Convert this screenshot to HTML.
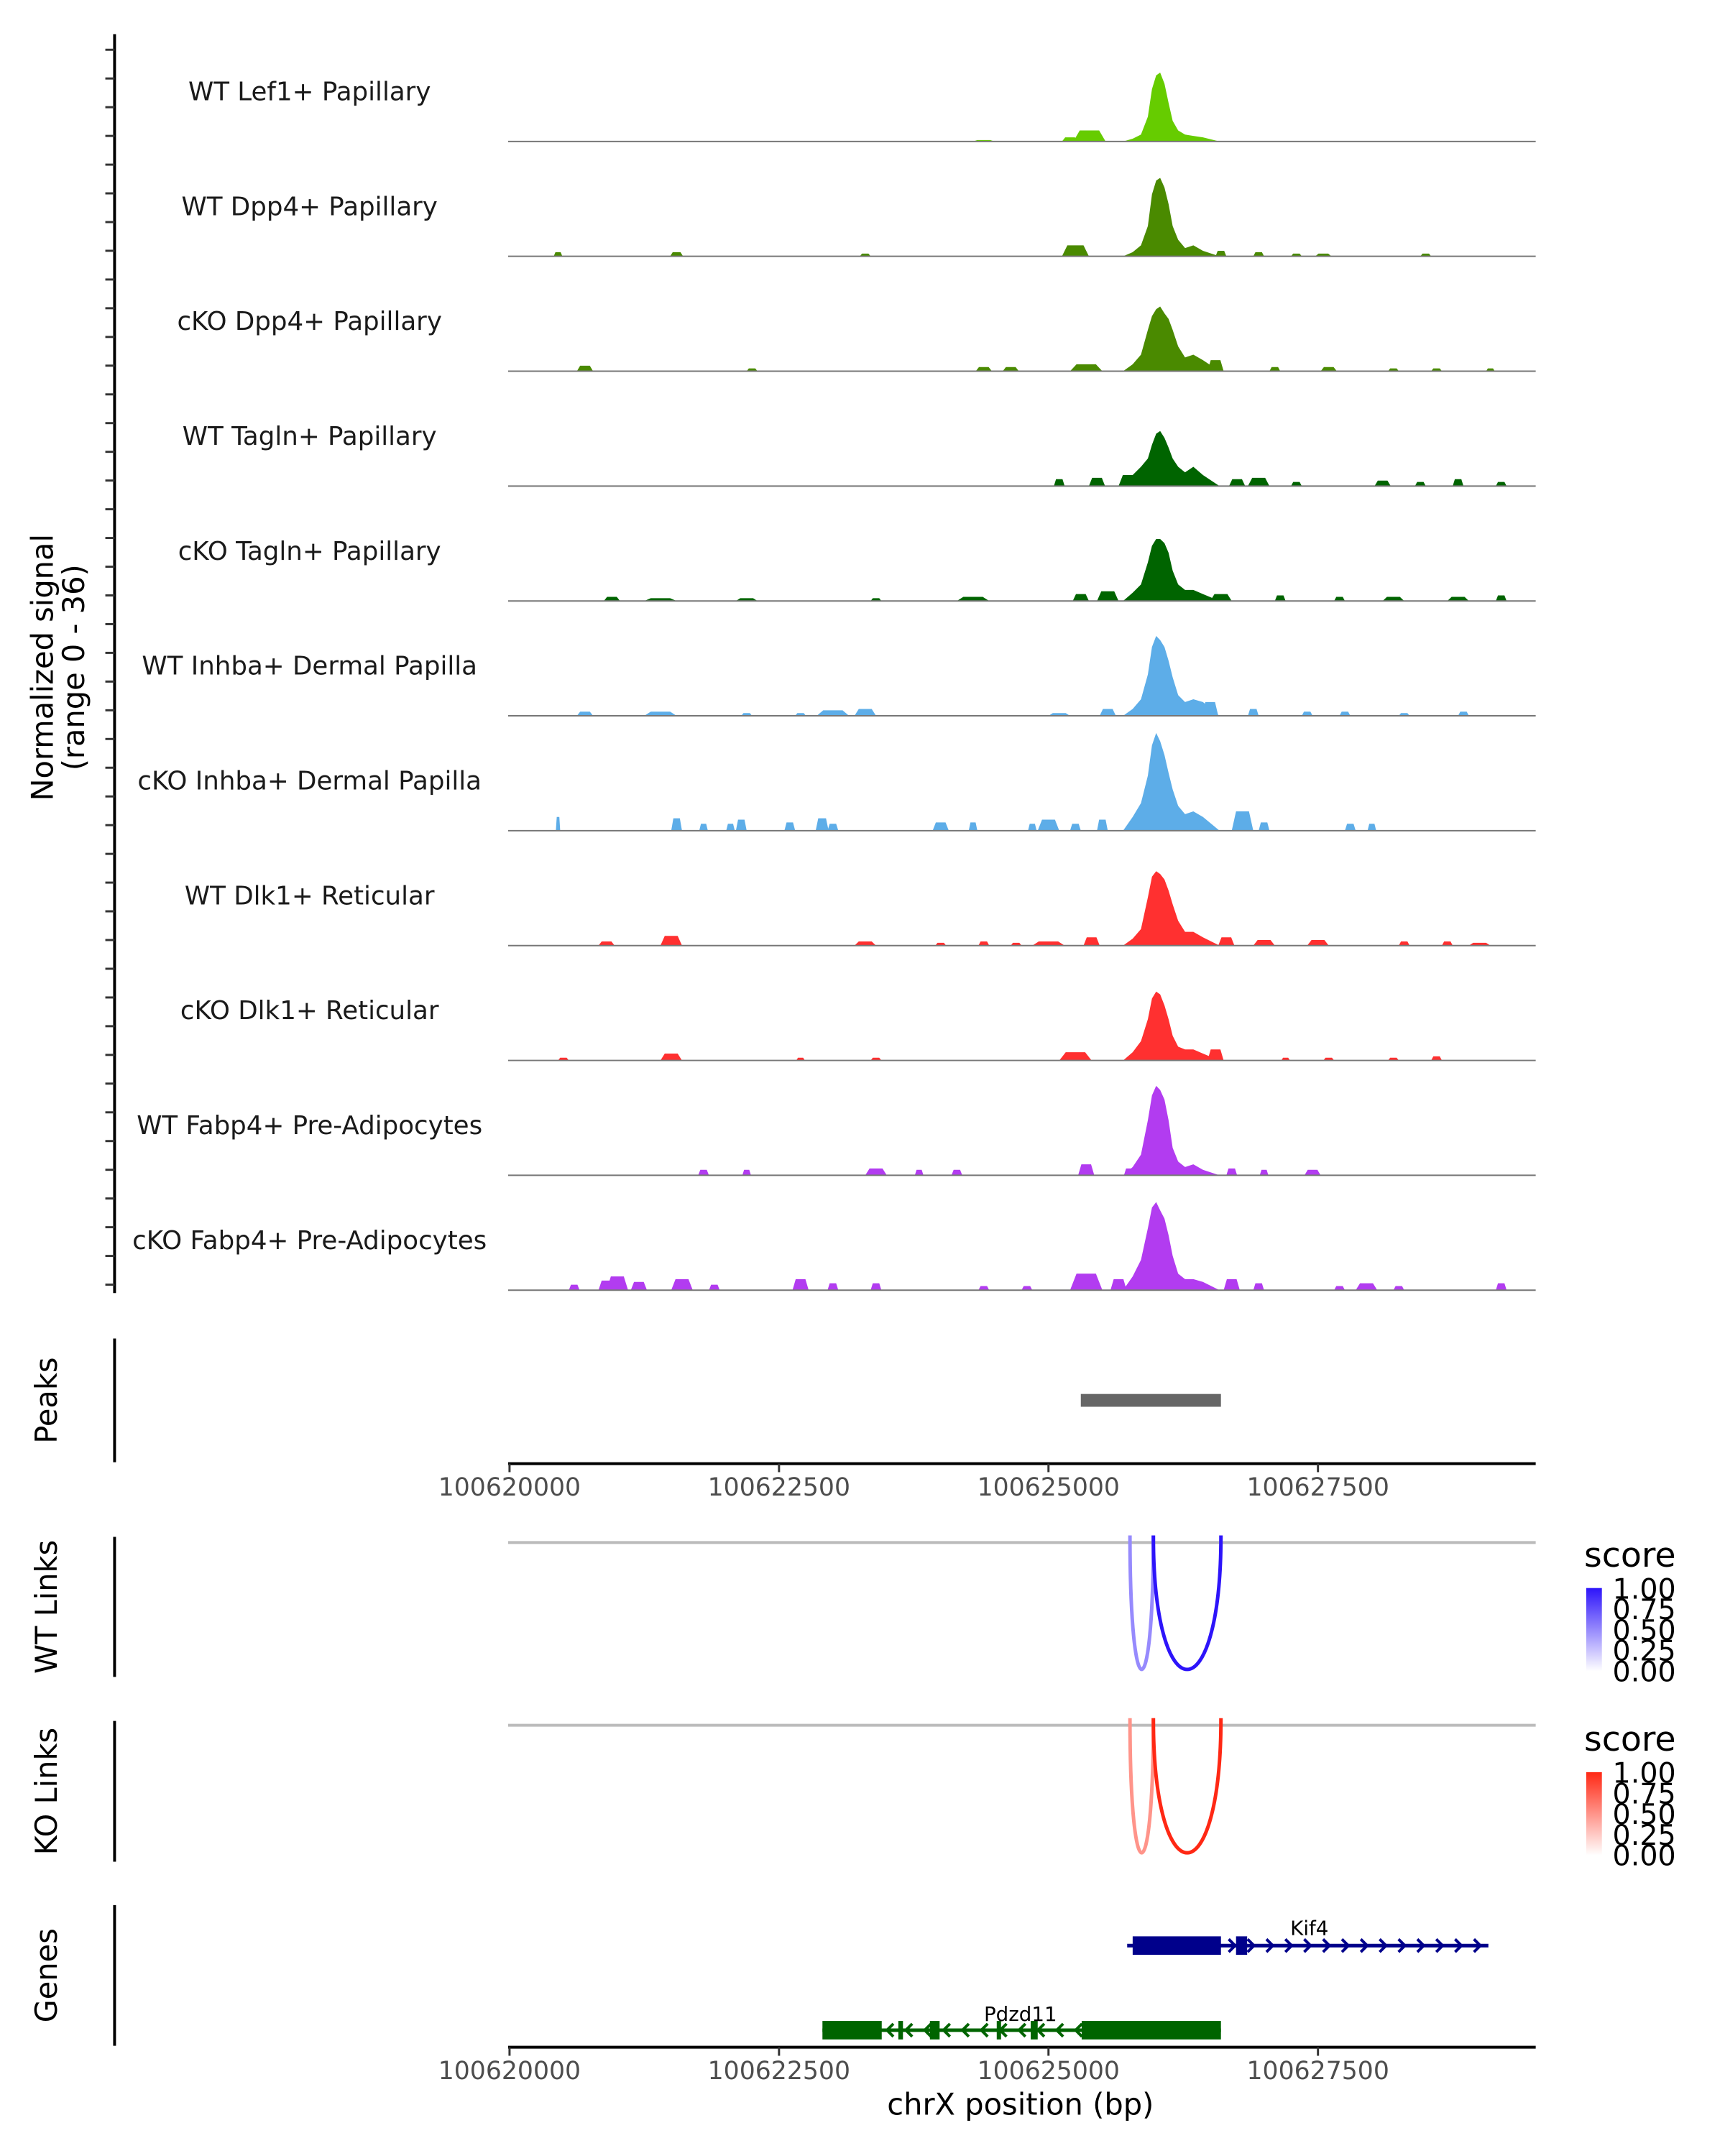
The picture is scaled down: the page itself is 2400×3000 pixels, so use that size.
<!DOCTYPE html>
<html><head><meta charset="utf-8"><style>
html,body{margin:0;padding:0;background:#fff;}
svg{display:block;font-family:"DejaVu Sans","Liberation Sans",sans-serif;}
</style></head><body>
<svg id="chart" width="2400" height="3000" viewBox="0 0 2424 3033" preserveAspectRatio="none" xmlns="http://www.w3.org/2000/svg"></svg>
<script>
const regionStart = 100620000;
const tickValues = [100620000, 100622500, 100625000, 100627500];
const trackNames = ["WT Lef1+ Papillary","WT Dpp4+ Papillary","cKO Dpp4+ Papillary","WT Tagln+ Papillary","cKO Tagln+ Papillary","WT Inhba+ Dermal Papilla","cKO Inhba+ Dermal Papilla","WT Dlk1+ Reticular","cKO Dlk1+ Reticular","WT Fabp4+ Pre-Adipocytes","cKO Fabp4+ Pre-Adipocytes"];
const trackColors = ["#66cc00","#4a8a00","#4a8a00","#006400","#006400","#5dade8","#5dade8","#ff3030","#ff3030","#b23cf0","#b23cf0"];
const peakOffsets = [5692,5781,5858,5922,5960,5999,6036,6076,6114,6152,6203,6267,6344,6433,6587];
const peakVals = [
[0,2,5,18,38,48,50,42,28,15,8,5,4,3,0],
[0,3,8,22,45,55,57,50,38,22,12,6,8,4,0],
[0,5,12,30,40,45,47,42,38,30,18,10,12,8,0],
[0,8,14,20,30,38,40,35,28,20,14,10,14,8,0],
[0,6,12,28,40,45,45,42,35,22,12,8,8,5,0],
[0,5,12,30,50,58,55,50,40,28,15,10,12,10,0],
[0,10,20,40,62,71,65,55,42,30,18,12,14,10,0],
[0,5,12,35,50,54,52,48,40,30,18,10,10,6,0],
[0,6,14,30,45,50,48,40,30,18,10,8,8,5,0],
[0,6,15,40,58,65,62,55,40,20,10,6,8,4,0],
[0,10,22,45,60,64,58,52,40,25,12,8,8,6,0]];
const bumps = [
[[5380,300,8],[5200,150,3],[4400,200,1]],
[[450,80,3],[1550,120,3],[3300,100,2],[5250,250,8],[6600,100,4],[6950,100,3],[7300,100,2],[7550,150,2],[8500,100,2]],
[[700,150,4],[2250,100,2],[4400,150,3],[4650,150,3],[5350,300,5],[6550,150,8],[7100,100,3],[7600,150,3],[8200,100,2],[8600,100,2],[9100,80,2]],
[[5100,100,5],[5450,150,6],[5750,200,8],[6750,150,5],[6950,200,6],[7300,100,3],[8100,150,4],[8450,100,3],[8800,100,5],[9200,100,3]],
[[950,150,3],[1400,300,2],[2200,200,2],[3400,100,2],[4300,300,3],[5300,150,5],[5550,200,7],[6600,200,5],[7150,100,4],[7700,100,3],[8200,200,3],[8800,200,3],[9200,100,4]],
[[700,150,3],[1400,300,3],[2200,100,2],[2700,100,2],[3000,300,4],[3300,200,5],[5100,200,2],[5550,150,5],[6500,150,10],[6900,100,5],[7400,100,3],[7750,100,3],[8300,100,2],[8850,100,3]],
[[450,40,10],[1550,100,9],[1800,80,5],[2050,80,5],[2150,100,8],[2600,100,6],[2900,120,9],[3000,100,5],[4000,150,6],[4300,80,6],[4850,80,5],[5000,200,8],[5250,100,5],[5500,100,8],[6800,200,14],[7000,100,6],[7800,100,5],[8000,80,5]],
[[900,150,3],[1500,200,7],[3300,200,3],[4000,100,2],[4400,100,3],[4700,100,2],[5000,300,3],[5400,150,6],[6650,150,6],[7000,200,4],[7500,200,4],[8300,100,3],[8700,100,3],[9000,200,2]],
[[500,100,2],[1500,200,5],[2700,80,2],[3400,100,2],[5250,300,6],[6550,150,8],[7200,80,2],[7600,100,2],[8200,100,2],[8600,100,3]],
[[1800,100,4],[2200,80,4],[3400,200,5],[3800,80,4],[4150,100,4],[5350,150,8],[5750,100,5],[6700,100,5],[7000,80,4],[7450,150,4]],
[[600,100,4],[900,150,7],[1000,200,10],[1200,150,6],[1600,200,8],[1900,100,4],[2700,150,8],[3000,100,5],[3400,100,5],[4400,100,3],[4800,100,3],[5350,300,12],[5650,150,8],[6700,150,8],[6950,100,5],[7700,100,3],[7950,200,5],[8250,100,3],[9200,100,5]]];
const peakRegion = [5300, 6600];
const wtLinks = [[5756,5973,0.5],[5973,6600,1.0]];
const koLinks = [[5756,5973,0.5],[5973,6600,1.0]];
const legendTicks = ["1.00","0.75","0.50","0.25","0.00"];
const kif4Span = [5730, 9081];
const kif4Exons = [[5781,6600],[6740,6843]];
const pdzSpan = [2903, 6600];
const pdzExons = [[2903,3453],[3607,3650],[3900,3990],[4520,4560],[4835,4900],[5308,6600]];

const NS="http://www.w3.org/2000/svg";
const svg=document.getElementById('chart');
function el(tag,attrs,parent){const e=document.createElementNS(NS,tag);for(const k in attrs)e.setAttribute(k,attrs[k]);(parent||svg).appendChild(e);return e;}
const X0=716, PXBP=0.15147, XR=2158;
const xs=off=>X0+off*PXBP;
const xbp=bp=>xs(bp-regionStart);
const TRACK0=199, TSTEP=161.6, YMAX=80, THEIGHT=155;
const ys=(i,v)=>TRACK0+i*TSTEP - v/YMAX*THEIGHT;

let ax=el('line',{x1:161,y1:48,x2:161,y2:1819,stroke:'#000','stroke-width':4});

for(let y=70;y<=1818;y+=TSTEP/4){let t=el('line',{x1:148,y1:y,x2:161,y2:y,stroke:'#333','stroke-width':3});}
let yt=el('text',{x:0,y:0,'font-size':42,'text-anchor':'middle',transform:'translate(80,939) rotate(-90)',fill:'#000'});

yt.innerHTML='<tspan x="0" dy="-6">Normalized signal</tspan><tspan x="0" dy="44">(range 0 - 36)</tspan>';

for(let i=0;i<trackNames.length;i++){
  const g=el('g',{});
  const base=ys(i,0);
  bumps[i].forEach(b=>{
    const x1=xs(b[0]-b[1]/2),x2=xs(b[0]+b[1]/2),w=(x2-x1)*0.2;
    const p=el('path',{d:`M${x1},${base} L${x1+w},${ys(i,b[2])} L${x2-w},${ys(i,b[2])} L${x2},${base}Z`,fill:trackColors[i]},g);
    
  });
  let d=`M${xs(peakOffsets[0])},${base}`;
  peakOffsets.forEach((o,k)=>{d+=` L${xs(o)},${ys(i,peakVals[i][k])}`;});
  d+=` L${xs(peakOffsets[peakOffsets.length-1])},${base}Z`;
  const pk=el('path',{d,fill:trackColors[i]},g);
  
  const bl=el('line',{x1:714,y1:base,x2:XR,y2:base,stroke:'#777','stroke-width':2},g);
  
  const lb=el('text',{x:435,y:base-58,'font-size':36,'text-anchor':'middle',fill:'#1a1a1a'},g);
  lb.textContent=trackNames[i];
  
}

function panelAxis(name,y1,y2,label){
  const l=el('line',{x1:161,y1,x2:161,y2,stroke:'#000','stroke-width':4});
  
  const t=el('text',{x:0,y:0,'font-size':42,'text-anchor':'middle',transform:`translate(80,${(y1+y2)/2}) rotate(-90)`});
  t.textContent=label;
}
panelAxis('peaks',1883,2057,'Peaks');
const pr=el('rect',{x:xs(peakRegion[0]),y:1961,width:xs(peakRegion[1])-xs(peakRegion[0]),height:18,fill:'#666'});


function xAxis(y,name){
  const l=el('line',{x1:714,y1:y,x2:XR,y2:y,stroke:'#000','stroke-width':4});
  
  tickValues.forEach(v=>{
    const tk=el('line',{x1:xbp(v),y1:y,x2:xbp(v),y2:y+12,stroke:'#333','stroke-width':3});
    
    const t=el('text',{x:xbp(v),y:y+45,'font-size':35,'text-anchor':'middle',fill:'#4d4d4d'});
    t.textContent=v;
  });
}
xAxis(2059,'peaks-x-axis');

function linkPanel(name,label,y1,y2,top,bottom,links,rgb,legY){
  panelAxis(name,y1,y2,label);
  const gl=el('line',{x1:714,y1:top,x2:XR,y2:top,stroke:'#bbb','stroke-width':4});
  
  const cp=top+(bottom-top)/0.75;
  links.forEach(k=>{
    const s=k[2];const c=`rgb(${Math.round(255+(rgb[0]-255)*s)},${Math.round(255+(rgb[1]-255)*s)},${Math.round(255+(rgb[2]-255)*s)})`;
    const x1=xs(k[0]),x2=xs(k[1]);
    const p=el('path',{d:`M${x1},${top-10} C${x1},${cp} ${x2},${cp} ${x2},${top-10}`,fill:'none',stroke:c,'stroke-width':5});
    
  });
  const t=el('text',{x:2226,y:legY,'font-size':48});t.textContent='score';
  
  const gid=name+'grad';
  const defs=el('defs',{});const lg=el('linearGradient',{id:gid,x1:0,y1:1,x2:0,y2:0},defs);
  el('stop',{offset:0,'stop-color':'#fff'},lg);el('stop',{offset:1,'stop-color':`rgb(${rgb.join(',')})`},lg);
  const barTop=legY+30;
  const bar=el('rect',{x:2229,y:barTop,width:22,height:117,fill:`url(#${gid})`});
  
  legendTicks.forEach((v,k)=>{
    const lt=el('text',{x:2266,y:barTop+k*29+15,'font-size':40});lt.textContent=v;
    
  });
}
linkPanel('wt-links','WT Links',2162,2359,2170,2351,wtLinks,[45,20,250],2204);
linkPanel('ko-links','KO Links',2421,2619,2427,2609,koLinks,[255,40,20],2463);

panelAxis('genes',2680,2878,'Genes');
function gene(name,span,exons,y,color,dir,lx,ly){
  const g=el('g',{});
  el('line',{x1:xs(span[0]),y1:y,x2:xs(span[1]),y2:y,stroke:color,'stroke-width':5},g);
  for(let o=span[0]+100;o<span[1];o+=175){
    const x=xs(o);
    el('path',{d:dir>0?`M${x-5},${y-9} L${x+4},${y} L${x-5},${y+9}`:`M${x+5},${y-9} L${x-4},${y} L${x+5},${y+9}`,fill:'none',stroke:color,'stroke-width':4},g);
  }
  exons.forEach(e=>{const r=el('rect',{x:xs(e[0]),y:y-13,width:Math.max(6,xs(e[1])-xs(e[0])),height:26,fill:color},g);
    });
  const t=el('text',{x:lx,y:ly,'font-size':28,'text-anchor':'middle'},g);t.textContent=name;
}
gene('Kif4',kif4Span,kif4Exons,2737,'#00008b',1,1840,2722);
gene('Pdzd11',pdzSpan,pdzExons,2856,'#006400',-1,1434,2843);
xAxis(2880,'genes-x-axis');
const xt=el('text',{x:1434,y:2975,'font-size':42,'text-anchor':'middle'});xt.textContent='chrX position (bp)';

</script>
</body></html>
